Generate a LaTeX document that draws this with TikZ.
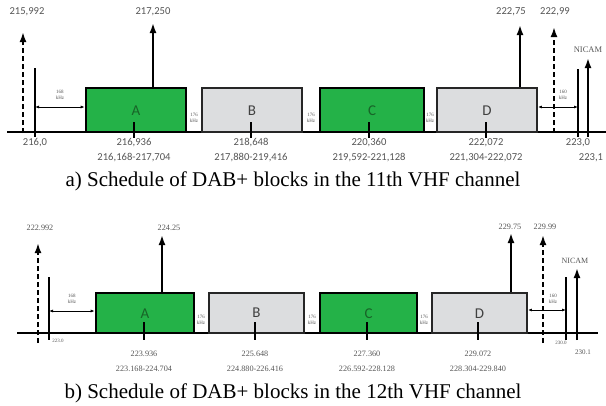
\documentclass[tikz,border=0pt]{standalone}
\usepackage{fontspec}
\setmainfont{Liberation Serif}
\newfontfamily\carl{Carlito}
\usetikzlibrary{arrows.meta}
\definecolor{gfill}{RGB}{36,178,72}
\definecolor{gtext}{RGB}{24,100,40}
\definecolor{wfill}{RGB}{220,221,223}
\definecolor{lbl}{RGB}{85,85,85}
\tikzset{
  line/.style={line width=1.8pt},
  gbox/.style={draw=black, fill=gfill, line width=2.6pt, minimum height=44pt, inner sep=0pt},
  wbox/.style={draw=black!85, fill=wfill, line width=1.8pt, minimum height=44pt, inner sep=0pt},
  gbox2/.style={gbox, minimum height=40pt},
  wbox2/.style={wbox, minimum height=40pt},
  arr/.style={line width=1.8pt, -{Latex[length=10pt,width=7pt]}},
  darr/.style={line width=2.6pt, dash pattern=on 5pt off 3pt, -{Latex[length=10pt,width=7pt]}},
  dimarr/.style={line width=1pt, {Latex[length=4pt,width=3pt]}-{Latex[length=4pt,width=3pt]}},
  tick/.style={line width=2pt},
  slbl/.style={font=\carl\fontsize{10.6}{11}\selectfont, text=lbl, inner sep=0pt},
  tlbl/.style={font=\fontsize{8.2}{9}\selectfont, text=lbl, inner sep=0pt},
  tiny/.style={font=\fontsize{5}{5.5}\selectfont, text=lbl, inner sep=0pt, align=center},
  letA/.style={font=\carl\fontsize{15}{15}\selectfont, text=gtext, inner sep=0pt},
  letB/.style={font=\carl\fontsize{15}{15}\selectfont, text=black!75, inner sep=0pt},
  captxt/.style={font=\fontsize{21}{22}\selectfont, inner sep=0pt},
}
\begin{document}
\begin{tikzpicture}[x=1pt,y=-1pt]
\useasboundingbox (0,0) rectangle (606,405);
% ================= TOP (11th channel) =================
\draw[line width=2pt] (7,132) -- (606,132);
\node[gbox, minimum width=100pt] (A1) at (136,110) {};
\node[wbox, minimum width=100pt] (B1) at (252,110) {};
\node[gbox, minimum width=104pt] (C1) at (372,110) {};
\node[wbox, minimum width=100pt] (D1) at (487,110) {};
\node[letA] (lA1) at (136,111) {A};
\node[letB] (lB1) at (252,111) {B};
\node[letA] (lC1) at (372,111) {C};
\node[letB] (lD1) at (487,111) {D};
\foreach \x in {134,251,369,486} \draw[tick] (\x,122) -- (\x,138);
% gap labels
\node[tiny] (g1a) at (194,118) {176\\kHz};
\node[tiny] (g1b) at (311,118) {176\\kHz};
\node[tiny] (g1c) at (430,118) {176\\kHz};
% arrows
\coordinate (t1a) at (23,32);
\coordinate (t1b) at (153,23);
\coordinate (t1c) at (520,25);
\coordinate (t1d) at (554,27);
\coordinate (t1e) at (588,58);
\draw[darr] (23,133) -- (t1a);
\draw[arr] (A1.north -| t1b) -- (t1b);
\draw[arr] (D1.north -| t1c) -- (t1c);
\draw[darr] (554,133) -- (t1d);
\draw[arr] (588,137) -- (t1e);
\node[slbl] (v1a) at (27,12) {215,992};
\node[slbl] (v1b) at (153,12) {217,250};
\node[slbl] (v1c) at (511,12) {222,75};
\node[slbl] (v1d) at (555,12) {222,99};
\node[font=\fontsize{8.5}{9}\selectfont, text=lbl, inner sep=0pt] (n1) at (588,50) {NICAM};
% verticals
\coordinate (L1) at (35,107);
\coordinate (R1) at (578,107);
\draw[line] (35,68) -- (35,137);
\draw[line] (578,69) -- (578,137);
\draw[dimarr] (L1) -- (A1.west |- L1);
\draw[dimarr] (D1.east |- R1) -- (R1);
\node[tiny] (k1a) at (60,95) {168\\kHz};
\node[tiny] (k1b) at (563,95) {160\\kHz};
% bottom labels
\node[slbl] (f1) at (35,143) {216,0};
\node[slbl] (f2) at (134,143) {216,936};
\node[slbl] (f3) at (251,143) {218,648};
\node[slbl] (f4) at (369,143) {220,360};
\node[slbl] (f5) at (486,143) {222,072};
\node[slbl] (f6) at (578,143) {223,0};
\node[slbl] (r2) at (134,158) {216,168-217,704};
\node[slbl] (r3) at (251,158) {217,880-219,416};
\node[slbl] (r4) at (369,158) {219,592-221,128};
\node[slbl] (r5) at (486,158) {221,304-222,072};
\node[slbl] (r6) at (591,158) {223,1};
\node[captxt] (capa) at (293,181) {a) Schedule of DAB+ blocks in the 11th VHF channel};
% ================= BOTTOM (12th channel) =================
\draw[line width=2pt] (17,333) -- (598,333);
\node[gbox2, minimum width=98pt] (A2) at (145,313) {};
\node[wbox2, minimum width=95pt] (B2) at (256.5,313) {};
\node[gbox2, minimum width=97pt] (C2) at (368.5,313) {};
\node[wbox2, minimum width=95pt] (D2) at (479.5,313) {};
\node[letA] (lA2) at (145,314) {A};
\node[letB] (lB2) at (256.5,313) {B};
\node[letA] (lC2) at (368.5,314) {C};
\node[letB] (lD2) at (479.5,314) {D};
\foreach \x in {144,255,367,478} \draw[tick] (\x,322) -- (\x,340);
\node[tiny] (g2a) at (201,320) {176\\kHz};
\node[tiny] (g2b) at (312,320) {176\\kHz};
\node[tiny] (g2c) at (424,320) {176\\kHz};
\coordinate (t2a) at (38,243);
\coordinate (t2b) at (162,235);
\coordinate (t2c) at (511,233);
\coordinate (t2d) at (543,235);
\coordinate (t2e) at (577,268);
\draw[darr] (38,343) -- (t2a);
\draw[arr] (A2.north -| t2b) -- (t2b);
\draw[arr] (D2.north -| t2c) -- (t2c);
\draw[darr] (543,343) -- (t2d);
\draw[arr] (577,340) -- (t2e);
\node[tlbl] (v2a) at (40,228) {222.992};
\node[tlbl] (v2b) at (169,228) {224.25};
\node[tlbl] (v2c) at (510,227) {229.75};
\node[tlbl] (v2d) at (545,227) {229.99};
\node[font=\fontsize{8}{9}\selectfont, text=lbl, inner sep=0pt] (n2) at (575,261) {NICAM};
\coordinate (L2) at (49,311);
\coordinate (R2) at (566,310);
\draw[line] (49,277) -- (49,340);
\draw[line] (566,277) -- (566,340);
\draw[dimarr] (L2) -- (A2.west |- L2);
\draw[dimarr] (D2.east |- R2) -- (R2);
\node[tiny] (k2a) at (72,299) {168\\kHz};
\node[tiny] (k2b) at (553,299) {160\\kHz};
\node[tiny] (h1) at (58,341) {223.0};
\node[tiny] (h2) at (561,343) {230.0};
\node[font=\fontsize{7}{8}\selectfont, text=lbl, inner sep=0pt] (h3) at (583,352) {230.1};
\node[tlbl] (e2) at (144,354) {223.936};
\node[tlbl] (e3) at (255,354) {225.648};
\node[tlbl] (e4) at (367,354) {227.360};
\node[tlbl] (e5) at (478,354) {229.072};
\node[tlbl] (s2) at (144,369) {223.168-224.704};
\node[tlbl] (s3) at (255,369) {224.880-226.416};
\node[tlbl] (s4) at (367,369) {226.592-228.128};
\node[tlbl] (s5) at (478,369) {228.304-229.840};
\node[captxt] (capb) at (293,393) {b) Schedule of DAB+ blocks in the 12th VHF channel};
\end{tikzpicture}
\end{document}
